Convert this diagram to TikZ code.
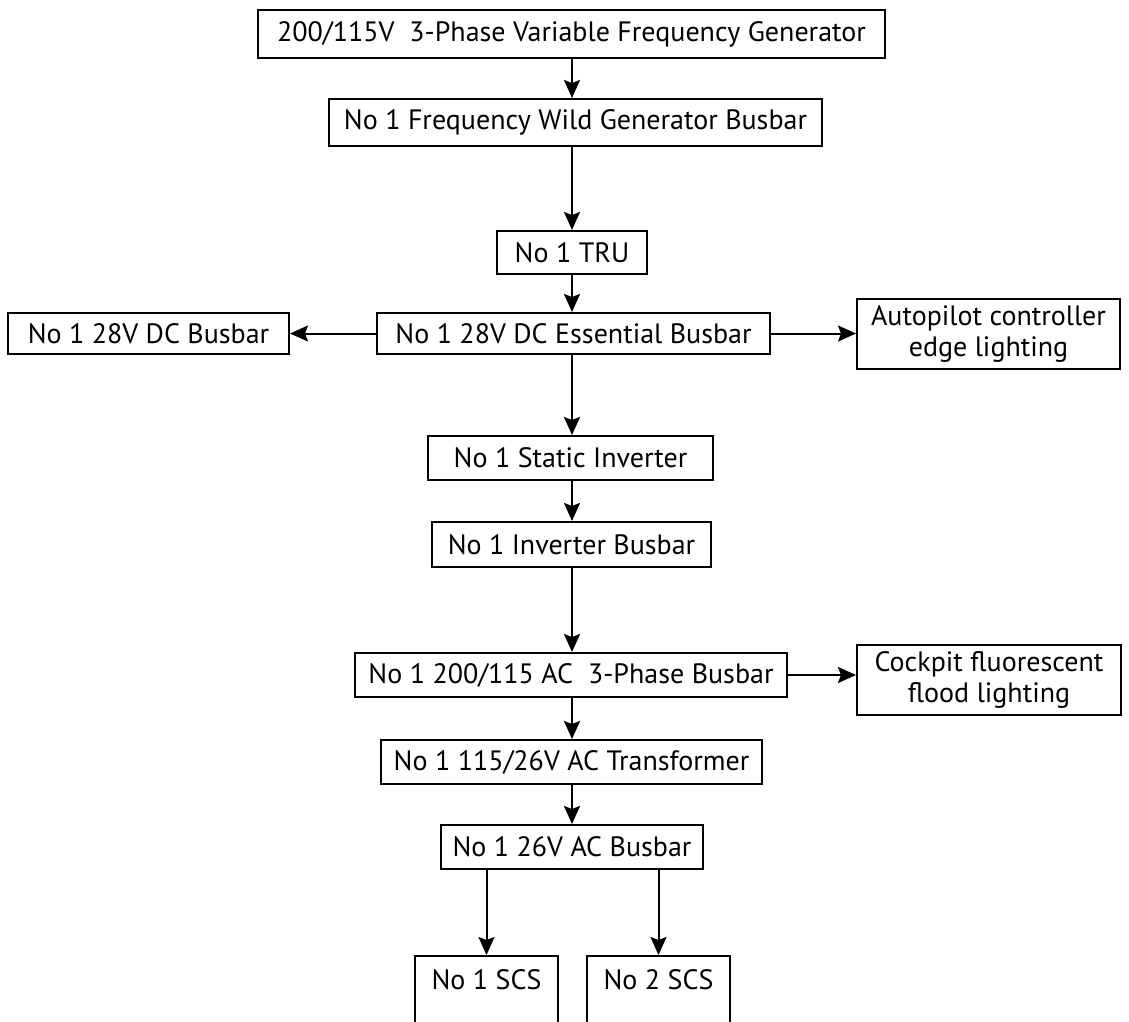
\documentclass[tikz,border=0pt]{standalone}
\usepackage{fontspec}
\setmainfont{PT Sans}
\usetikzlibrary{arrows.meta}
\begin{document}
\begin{tikzpicture}[x=1pt,y=-1pt,
  txt/.style={font=\fontsize{28}{31}\selectfont},
  box/.style={draw,line width=2pt,inner sep=0pt,align=center,txt},
  arr/.style={line width=2pt,-{Stealth[length=18pt,width=16pt,inset=3pt]}}]
\useasboundingbox[fill=white] (0,0) rectangle (1129,1021);
\node[box,minimum width=627,minimum height=48] (gen) at (571.5,34) {200/115V\ \ 3-Phase Variable Frequency Generator};
\node[box,minimum width=493,minimum height=47] (wild) at (575.5,122.5) {No 1 Frequency Wild Generator Busbar};
\node[box,minimum width=150,minimum height=43] (tru) at (572,252.5) {No 1 TRU};
\node[box,minimum width=393,minimum height=41] (ess) at (573.5,333.5) {No 1 28V DC Essential Busbar};
\node[box,minimum width=281,minimum height=41] (dc) at (148.5,333.5) {No 1 28V DC Busbar};
\node[box,minimum width=263,minimum height=70] (auto) at (988.5,334) {Autopilot controller\\edge lighting};
\node[box,minimum width=285,minimum height=44] (static) at (570.5,458) {No 1 Static Inverter};
\node[box,minimum width=279,minimum height=45] (inv) at (571.5,544.5) {No 1 Inverter Busbar};
\node[box,minimum width=432,minimum height=44] (ac) at (571,675) {No 1 200/115 AC\ \ 3-Phase Busbar};
\node[box,minimum width=264,minimum height=70] (cock) at (989,680) {Cockpit fluorescent\\flood lighting};
\node[box,minimum width=381,minimum height=44] (trans) at (571.5,762) {No 1 115/26V AC Transformer};
\node[box,minimum width=262,minimum height=44] (b26) at (572,847) {No 1 26V AC Busbar};
\node[box,minimum width=143,minimum height=80,anchor=north,
  label={[txt,yshift=16pt]center:No 1 SCS}] (scs1) at (486.5,955) {};
\node[box,minimum width=143,minimum height=80,anchor=north,
  label={[txt,yshift=16pt]center:No 2 SCS}] (scs2) at (658.5,955) {};
\draw[arr] (gen.south -| tru) -- (wild.north -| tru);
\draw[arr] (wild.south -| tru) -- (tru.north);
\draw[arr] (tru.south) -- (ess.north -| tru);
\draw[arr] (ess.south -| tru) -- (static.north -| tru);
\draw[arr] (static.south -| tru) -- (inv.north -| tru);
\draw[arr] (inv.south -| tru) -- (ac.north -| tru);
\draw[arr] (ac.south -| tru) -- (trans.north -| tru);
\draw[arr] (trans.south -| tru) -- (b26.north -| tru);
\draw[arr] (ess.west) -- (dc.east);
\draw[arr] (ess.east) -- (ess.east -| auto.west);
\draw[arr] (ac.east) -- (ac.east -| cock.west);
\draw[arr] (b26.south -| scs1.north) -- (scs1.north);
\draw[arr] (b26.south -| scs2.north) -- (scs2.north);
\end{tikzpicture}
\end{document}
